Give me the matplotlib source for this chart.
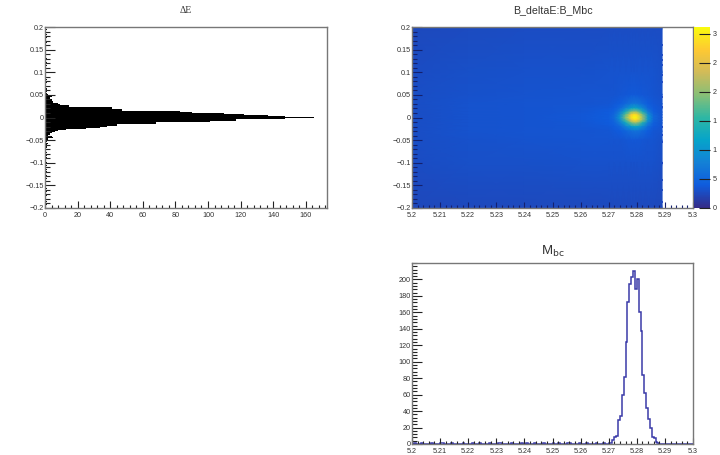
#!/usr/bin/env python3

import numpy as np
import matplotlib
matplotlib.use("Agg")
import matplotlib.pyplot as plt
from matplotlib import colors
from matplotlib.ticker import MultipleLocator

plt.rcParams['font.family'] = ['Liberation Sans', 'DejaVu Sans']

# delta E histogram, 200 bins of 0.002, first upper bin sits on zero
de_upper = [165, 147, 137, 122, 110, 97, 90, 83, 47, 47, 41, 41, 15, 15, 9, 8, 6, 5, 5, 4,
            4, 3, 3, 4, 2, 2, 1, 1, 0, 1, 0, 1, 1, 0, 1, 0, 0, 1, 0, 1,
            0, 0, 1, 0, 1, 0, 0, 1, 0, 0, 1, 0, 0, 0, 1, 0, 0, 1, 0, 0,
            0, 1, 0, 0, 0, 1, 0, 0, 0, 0, 1, 0, 0, 0, 1, 0, 0, 0, 0, 1,
            0, 0, 0, 1, 0, 0, 0, 0, 1, 0, 0, 0, 1, 0, 0, 0, 0, 1, 0, 0]
de_lower = [147, 117, 117, 101, 101, 68, 68, 44, 44, 38, 34, 25, 13, 8, 6, 5, 4, 3, 3, 2,
            4, 5, 2, 2, 1, 2, 1, 0, 2, 1, 0, 1, 1, 0, 1, 0, 1, 0, 1, 0,
            0, 1, 0, 1, 0, 0, 1, 0, 0, 1, 0, 0, 1, 0, 0, 0, 1, 0, 0, 1,
            0, 0, 0, 1, 0, 0, 1, 0, 0, 0, 1, 0, 0, 0, 1, 0, 0, 1, 0, 0,
            0, 1, 0, 0, 0, 1, 0, 0, 1, 0, 0, 0, 1, 0, 0, 1, 0, 0, 0, 0]

# Mbc histogram, 150 bins from 5.2 to 5.3
mbc_counts = [0, 1, 0, 0, 0, 1, 0, 0, 0, 0, 1, 0, 0, 0, 0, 1, 1, 0, 0, 0,
              0, 1, 0, 0, 0, 0, 0, 1, 0, 0, 0, 0, 1, 0, 0, 0, 1, 0, 0, 0,
              0, 1, 0, 0, 0, 0, 1, 1, 0, 0, 0, 0, 0, 1, 0, 0, 0, 0, 1, 0,
              0, 1, 0, 0, 0, 1, 0, 0, 0, 0, 1, 0, 0, 0, 0, 1, 0, 0, 1, 0,
              0, 0, 0, 1, 1, 0, 0, 0, 0, 1, 0, 0, 0, 1, 0, 0, 0, 0, 1, 0,
              0, 0, 1, 0, 0, 1, 1, 5, 9, 10, 29, 34, 60, 82, 124, 172, 195, 203, 210, 188,
              200, 160, 137, 84, 62, 44, 30, 20, 8, 7, 2, 1, 0, 0, 0, 0, 0, 0, 0, 0,
              0, 0, 0, 0, 0, 0, 0, 0, 0, 0]

# 2d map, coarse nodes (finer round the peak)
map_x = [5.2, 5.22, 5.24, 5.26, 5.27, 5.272, 5.274, 5.276, 5.278, 5.279, 5.28, 5.282, 5.284, 5.286, 5.289]
map_y = [0.2, 0.1, 0.05, 0.03, 0.02, 0.012, 0.006, 0.0, -0.006, -0.012, -0.02, -0.03, -0.05, -0.1, -0.2]
map_z = [
    [2.5, 2.6, 2.7, 2.7, 2.7, 2.7, 2.7, 2.7, 2.7, 2.7, 2.7, 2.7, 2.7, 2.7, 2.7],
    [2.8, 3.0, 3.1, 3.1, 3.2, 3.2, 3.2, 3.2, 3.2, 3.2, 3.2, 3.2, 3.2, 3.2, 3.0],
    [2.9, 3.1, 3.2, 3.3, 3.4, 3.4, 3.5, 3.6, 3.7, 3.7, 3.7, 3.6, 3.5, 3.4, 3.1],
    [2.9, 3.2, 3.3, 3.4, 3.5, 3.7, 4.1, 5.2, 6.4, 6.8, 6.6, 5.4, 4.1, 3.6, 3.2],
    [2.9, 3.2, 3.3, 3.5, 3.7, 4.1, 5.4, 8.5, 11.5, 12.5, 12.0, 8.8, 5.2, 3.8, 3.3],
    [2.9, 3.2, 3.4, 3.5, 3.9, 4.6, 7.5, 13.5, 19.5, 21.0, 20.5, 14.0, 7.2, 4.2, 3.3],
    [2.9, 3.2, 3.4, 3.6, 4.0, 5.2, 9.0, 17.5, 26.5, 29.0, 28.0, 19.0, 9.4, 4.8, 3.4],
    [2.9, 3.2, 3.4, 3.6, 4.1, 5.6, 10.0, 19.5, 29.0, 31.0, 30.5, 21.0, 10.5, 5.2, 3.4],
    [2.9, 3.2, 3.4, 3.6, 4.0, 5.2, 9.0, 17.0, 25.5, 28.5, 28.0, 20.0, 10.0, 4.9, 3.4],
    [2.9, 3.2, 3.4, 3.5, 3.9, 4.6, 7.2, 12.5, 18.5, 20.5, 20.5, 14.5, 7.6, 4.3, 3.3],
    [2.9, 3.2, 3.3, 3.5, 3.7, 4.1, 5.2, 8.0, 11.0, 12.0, 12.2, 9.0, 5.5, 3.8, 3.3],
    [2.9, 3.2, 3.3, 3.4, 3.5, 3.7, 4.0, 4.9, 5.9, 6.3, 6.4, 5.3, 4.1, 3.5, 3.2],
    [2.9, 3.1, 3.2, 3.3, 3.4, 3.4, 3.4, 3.5, 3.6, 3.6, 3.6, 3.5, 3.4, 3.3, 3.0],
    [2.8, 3.0, 3.0, 3.1, 3.1, 3.1, 3.1, 3.1, 3.1, 3.1, 3.1, 3.1, 3.1, 3.1, 2.9],
    [2.4, 2.5, 2.5, 2.5, 2.5, 2.5, 2.5, 2.5, 2.5, 2.5, 2.5, 2.5, 2.5, 2.5, 2.4],
]
# little dark cells poking out past the right end of the map
edge_y = [0.16, 0.138, 0.127, 0.116, 0.094, 0.079, 0.046, 0.024, -0.02, -0.039, -0.054, -0.101, -0.138, -0.16, -0.186]

cbar_ticks = [0, 5, 10, 15, 20, 25, 30]
cbar_labels = ['0', '5', '1', '1', '2', '2', '3']
de_ticks = [-0.2, -0.15, -0.1, -0.05, 0, 0.05, 0.1, 0.15, 0.2]
de_labels = ['\u22120.2', '\u22120.15', '\u22120.1', '\u22120.05', '0', '0.05', '0.1', '0.15', '0.2']
mbc_ticks = [5.2, 5.21, 5.22, 5.23, 5.24, 5.25, 5.26, 5.27, 5.28, 5.29, 5.3]
mbc_labels = ['5.2', '5.21', '5.22', '5.23', '5.24', '5.25', '5.26', '5.27', '5.28', '5.29', '5.3']
count_ticks = [0, 20, 40, 60, 80, 100, 120, 140, 160, 180, 200]

# ROOT kBird palette
bird = colors.LinearSegmentedColormap.from_list('bird', [
    (0.2082, 0.1664, 0.5293), (0.0592, 0.3599, 0.8684), (0.0780, 0.5041, 0.8385),
    (0.0232, 0.6419, 0.7914), (0.1802, 0.7178, 0.6425), (0.5301, 0.7492, 0.4662),
    (0.8186, 0.7328, 0.3499), (0.9956, 0.7862, 0.1968), (0.9764, 0.9832, 0.0539)])

W, H = 720, 455
FRAME = '#777777'
TICK = '#222222'
LABEL = '#333333'


def add_axes(fig, left, top, right, bottom):
    return fig.add_axes([left/W, 1 - bottom/H, (right - left)/W, (bottom - top)/H])


def style(ax, xmajor, xminor, ymajor, yminor, xlen, tick=TICK):
    ax.xaxis.set_major_locator(MultipleLocator(xmajor))
    ax.xaxis.set_minor_locator(MultipleLocator(xminor))
    ax.yaxis.set_major_locator(MultipleLocator(ymajor))
    ax.yaxis.set_minor_locator(MultipleLocator(yminor))
    ax.tick_params(axis='x', which='major', direction='in', length=xlen, width=0.8,
                   color=tick, labelsize=5.2, labelcolor=LABEL, pad=3)
    ax.tick_params(axis='x', which='minor', direction='in', length=xlen/2, width=0.8, color=tick)
    ax.tick_params(axis='y', which='major', direction='in', length=7, width=0.8,
                   color=tick, labelsize=5.2, labelcolor=LABEL, pad=1)
    ax.tick_params(axis='y', which='minor', direction='in', length=3.5, width=0.8, color=tick)
    for s in ax.spines.values():
        s.set_color(FRAME)
        s.set_linewidth(1.0)


def draw_de(fig):
    ax = add_axes(fig, 45, 27, 327, 208)
    edges = np.linspace(-0.201, 0.199, 201)
    counts = np.array(de_lower[::-1] + de_upper)
    ax.barh(edges[:-1], counts, height=np.diff(edges), align='edge', color='black', linewidth=0)
    ax.set_xlim(0, 173)
    ax.set_ylim(-0.2, 0.2)
    style(ax, 20, 4, 0.05, 0.01, 5)
    ax.set_yticks(de_ticks)
    ax.set_yticklabels(de_labels)
    ax.set_title('\u0394E', fontsize=7, family=['Liberation Serif'], color=LABEL, pad=10)


def draw_map(fig):
    ax = add_axes(fig, 412, 27, 693, 208)
    norm = colors.Normalize(0, 31.2)
    mesh = ax.pcolormesh(map_x, map_y, np.array(map_z), cmap=bird, norm=norm, shading='gouraud')
    ax.hlines(edge_y, 5.289, 5.2895, color=(0.1, 0.25, 0.75), linewidth=1.2)
    ax.set_xlim(5.2, 5.3)
    ax.set_ylim(-0.2, 0.2)
    style(ax, 0.01, 0.002, 0.05, 0.01, 4, tick='#14206e')
    ax.set_xticks(mbc_ticks)
    ax.set_xticklabels(mbc_labels)
    ax.set_yticks(de_ticks)
    ax.set_yticklabels(de_labels)
    ax.set_title('B_deltaE:B_Mbc', fontsize=7.7, color=LABEL, pad=10)

    cax = add_axes(fig, 694, 27, 710, 208)
    cbar = fig.colorbar(mesh, cax=cax, ticks=cbar_ticks)
    cbar.ax.set_yticklabels(cbar_labels)
    cbar.ax.tick_params(direction='in', length=8, width=0.8, color=TICK, labelsize=5.2,
                        labelcolor=LABEL, pad=2)
    cbar.outline.set_linewidth(0)


def draw_mbc(fig):
    ax = add_axes(fig, 412, 263, 693, 444)
    edges = np.linspace(5.2, 5.3, 151)
    ax.stairs(mbc_counts, edges, color='#3a3aa8', linewidth=1.1)
    ax.set_xlim(5.2, 5.3)
    ax.set_ylim(0, 220)
    style(ax, 0.01, 0.002, 20, 4, 4)
    ax.set_xticks(mbc_ticks)
    ax.set_xticklabels(mbc_labels)
    ax.set_yticks(count_ticks)
    ax.set_title(r'M$_{\mathrm{bc}}$', fontsize=9.5, color=LABEL, pad=6)


def main():
    fig = plt.figure(figsize=(W/100, H/100), dpi=100, facecolor='white')
    draw_de(fig)
    draw_map(fig)
    draw_mbc(fig)
    fig.savefig('out.png', dpi=100)


if __name__ == "__main__":
    main()
